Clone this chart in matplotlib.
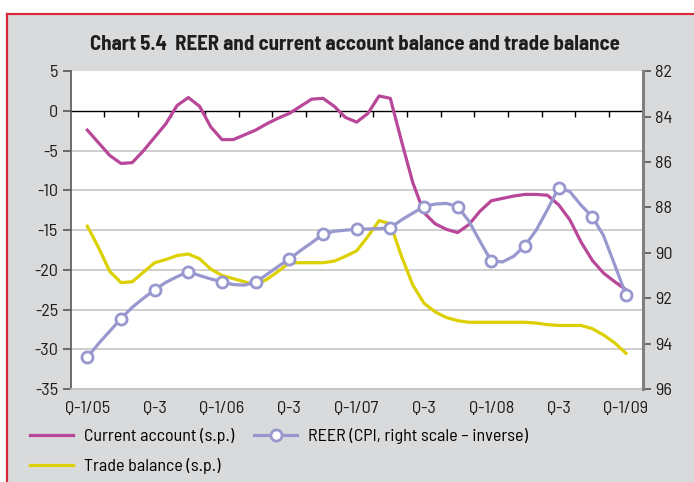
import matplotlib
matplotlib.use("Agg")
import matplotlib.pyplot as plt
import matplotlib.patches as mpatches
import numpy as np

plt.rcParams["font.family"] = ["Barlow Semi Condensed", "Asap Condensed", "DejaVu Sans"]

# monthly observations, Jan 2005 .. Jan 2009 (49 points)
current_account = [
    -2.4, -4.0, -5.6, -6.6, -6.5, -5.0, -3.3, -1.6, 0.7, 1.7,
    0.6, -2.0, -3.6, -3.6, -3.0, -2.4, -1.6, -0.9, -0.3, 0.6,
    1.5, 1.6, 0.6, -0.8, -1.4, -0.3, 1.9, 1.6, -3.8, -9.0,
    -12.8, -14.2, -14.9, -15.3, -14.3, -12.6, -11.3, -11.0, -10.7, -10.5,
    -10.5, -10.6, -11.8, -13.7, -16.5, -18.8, -20.4, -21.5, -22.5,
]
trade_balance = [
    -14.5, -17.2, -20.2, -21.6, -21.5, -20.3, -19.1, -18.7, -18.2, -18.0,
    -18.6, -19.9, -20.7, -21.1, -21.5, -21.9, -21.2, -20.2, -19.1, -19.1,
    -19.1, -19.1, -18.9, -18.3, -17.6, -15.8, -13.8, -14.2, -18.3, -21.9,
    -24.2, -25.3, -26.0, -26.4, -26.6, -26.6, -26.6, -26.6, -26.6, -26.6,
    -26.7, -26.9, -27.0, -27.0, -27.0, -27.4, -28.2, -29.2, -30.5,
]
reer = [
    94.6, 94.0, 93.45, 92.9, 92.4, 92.0, 91.63, 91.3, 91.05, 90.83,
    91.0, 91.15, 91.27, 91.4, 91.42, 91.3, 90.95, 90.6, 90.27, 89.9,
    89.55, 89.18, 89.05, 89.0, 88.96, 88.95, 88.93, 88.89, 88.55, 88.25,
    87.96, 87.85, 87.82, 87.96, 88.6, 89.5, 90.36, 90.4, 90.15, 89.68,
    89.0, 88.1, 87.13, 87.3, 87.9, 88.41, 89.24, 90.53, 91.85,
]
x_labels = ["Q-1/05", "Q-3", "Q-1/06", "Q-3", "Q-1/07", "Q-3", "Q-1/08", "Q-3", "Q-1/09"]
left_ticks = [5, 0, -5, -10, -15, -20, -25, -30, -35]
right_ticks = [82, 84, 86, 88, 90, 92, 94, 96]

PINK = "#b8479a"
YELLOW = "#ddd000"
LAVENDER = "#9898cf"
BG = "#d9dadc"
GRID = "#c6c6c6"
TXT = "#1e1e1e"

months = np.arange(len(current_account))
n_quarters = (len(months) - 1) // 3 + 1

fig = plt.figure(figsize=(6.94, 4.82), dpi=100)
fig.patch.set_facecolor("white")
top = 1 - 0.0285
fig.add_artist(mpatches.Rectangle((0.0105, 0), 1.0, top, transform=fig.transFigure,
                                  facecolor=BG, edgecolor="none", zorder=-10))
fig.add_artist(plt.Line2D([0.0105, 1.0], [top, top], color="#d42a3c", lw=1.6, zorder=-9))
fig.add_artist(plt.Line2D([0.0105, 0.0105], [0, top], color="#d42a3c", lw=1.6, zorder=-9))

ax = fig.add_axes([0.1016, 0.193, 0.8246, 0.659])
ax.set_facecolor("white")
ax.set_xlim(-1.5, len(months) - 1 + 1.5)
ax.set_ylim(-35, 5)
ax.set_yticks(left_ticks)
ax.set_yticklabels([str(t) for t in left_ticks])
for t in left_ticks[2:]:
    ax.axhline(t, color=GRID, lw=1.2, zorder=1)
ax.axhline(0, color="black", lw=1.0, zorder=2)
bounds = np.arange(n_quarters + 1) * 3 - 1.5
ax.vlines(bounds[1:-1], -0.7, 0, color="black", lw=1.0, zorder=2)

ax.set_xticks(months[::6])
ax.set_xticklabels(x_labels)
ax.tick_params(axis="x", length=0, pad=9, labelsize=13, colors=TXT)
ax.tick_params(axis="y", length=6, width=1.2, color="#555555", labelsize=13,
               labelcolor=TXT, pad=3)
for side in ["top", "right"]:
    ax.spines[side].set_visible(False)
ax.spines["left"].set_color("#555555")
ax.spines["left"].set_linewidth(1.2)
ax.spines["bottom"].set_color(GRID)
ax.spines["bottom"].set_linewidth(1.2)

l_ca, = ax.plot(months, current_account, color=PINK, lw=2.3, zorder=4, label="Current account (s.p.)")
l_tb, = ax.plot(months, trade_balance, color=YELLOW, lw=2.3, zorder=3, label="Trade balance (s.p.)")

ax2 = ax.twinx()
ax2.set_ylim(96, 82)
ax2.set_yticks(right_ticks)
ax2.tick_params(axis="y", length=6, width=1.2, color="#555555", labelsize=13,
                labelcolor=TXT, pad=3)
for side in ["top", "left", "bottom"]:
    ax2.spines[side].set_visible(False)
ax2.spines["right"].set_color("#808080")
ax2.spines["right"].set_linewidth(2.2)
l_re, = ax2.plot(months, reer, color=LAVENDER, lw=2.3, marker="o", markevery=3, ms=8,
                 mfc="white", mec=LAVENDER, mew=2, zorder=5,
                 label="REER (CPI, right scale \u2013 inverse)")

fig.text(0.512, 0.907, "Chart 5.4  REER and current account balance and trade balance",
         ha="center", va="center", fontsize=15, fontweight="bold", color=TXT)

fig.legend(handles=[l_ca, l_tb, l_re], ncol=2, loc="upper left", bbox_to_anchor=(0.043, 0.112),
           frameon=False, fontsize=13, handlelength=2.4, handletextpad=0.6,
           columnspacing=1.1, labelspacing=0.8, borderaxespad=0, borderpad=0)

fig.savefig("out.png", dpi=100)
